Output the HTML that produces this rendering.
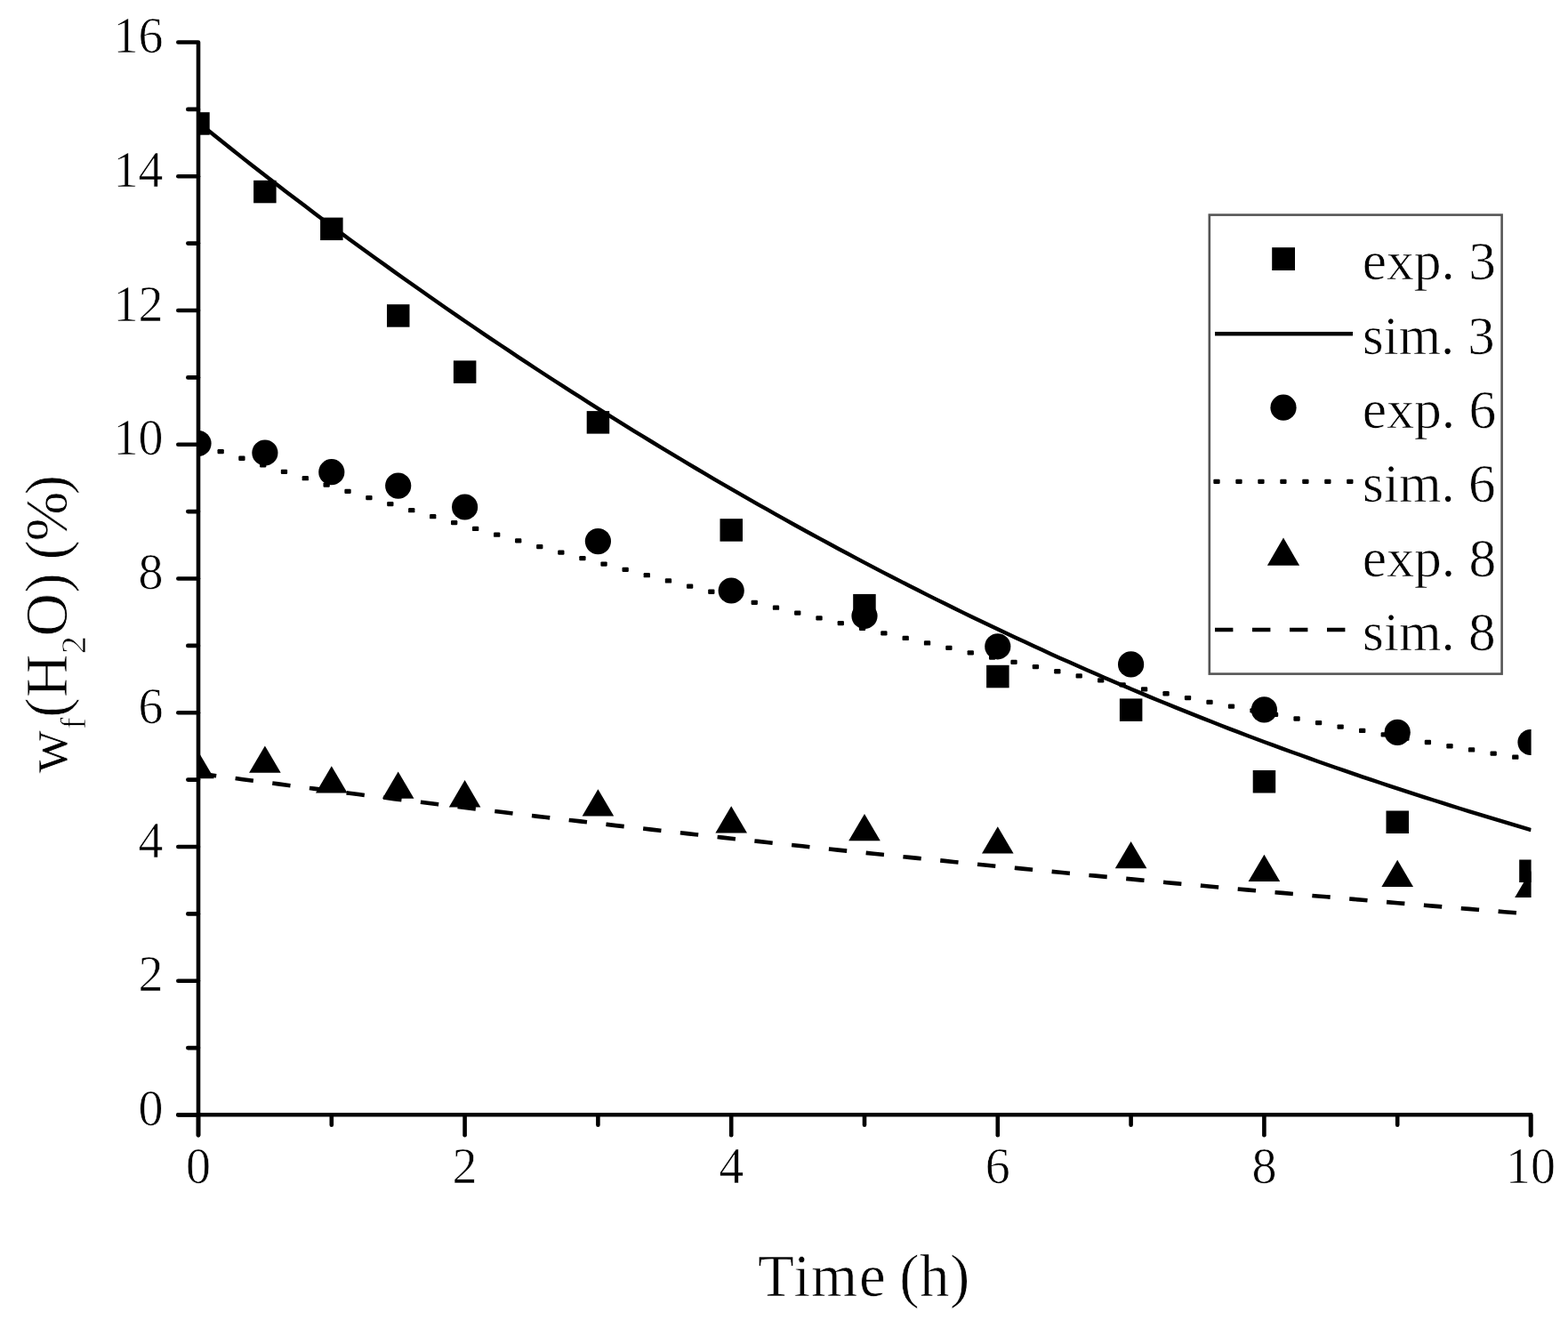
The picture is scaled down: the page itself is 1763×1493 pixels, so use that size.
<!DOCTYPE html><html><head><meta charset="utf-8"><style>html,body{margin:0;padding:0;background:#fff}body{width:1763px;height:1493px;overflow:hidden}svg{display:block}text{font-family:"Liberation Serif","DejaVu Serif",serif;fill:#000;stroke:#fff;stroke-width:0.7px}</style></head><body>
<svg width="1763" height="1493" viewBox="0 0 1763 1493">
<rect width="1763" height="1493" fill="#fff"/>
<defs><clipPath id="pc"><rect x="223" y="0" width="1498.6" height="1253.5"/></clipPath></defs>
<g clip-path="url(#pc)" fill="#000" stroke="none">
<rect x="210.2" y="126.2" width="25.5" height="25.5"/>
<rect x="285.1" y="202.8" width="25.5" height="25.5"/>
<rect x="360.1" y="244.6" width="25.5" height="25.5"/>
<rect x="435.0" y="342.2" width="25.5" height="25.5"/>
<rect x="509.9" y="405.4" width="25.5" height="25.5"/>
<rect x="659.7" y="462.1" width="25.5" height="25.5"/>
<rect x="809.5" y="583.2" width="25.5" height="25.5"/>
<rect x="959.2" y="667.9" width="25.5" height="25.5"/>
<rect x="1109.1" y="747.8" width="25.5" height="25.5"/>
<rect x="1258.9" y="785.4" width="25.5" height="25.5"/>
<rect x="1408.7" y="866.0" width="25.5" height="25.5"/>
<rect x="1558.5" y="911.5" width="25.5" height="25.5"/>
<rect x="1708.2" y="966.5" width="25.5" height="25.5"/>
<circle cx="223.0" cy="498.5" r="14.6"/>
<circle cx="297.9" cy="509.0" r="14.6"/>
<circle cx="372.8" cy="530.7" r="14.6"/>
<circle cx="447.7" cy="546.1" r="14.6"/>
<circle cx="522.6" cy="570.0" r="14.6"/>
<circle cx="672.4" cy="608.6" r="14.6"/>
<circle cx="822.2" cy="664.0" r="14.6"/>
<circle cx="972.0" cy="692.5" r="14.6"/>
<circle cx="1121.8" cy="726.8" r="14.6"/>
<circle cx="1271.6" cy="746.9" r="14.6"/>
<circle cx="1421.4" cy="797.9" r="14.6"/>
<circle cx="1571.2" cy="823.4" r="14.6"/>
<circle cx="1721.0" cy="834.5" r="14.6"/>
<path d="M223.0 845.0L240.8 875.3L205.2 875.3Z"/>
<path d="M297.9 838.4L315.7 868.7L280.1 868.7Z"/>
<path d="M372.8 861.2L390.6 891.5L355.0 891.5Z"/>
<path d="M447.7 867.4L465.5 897.7L429.9 897.7Z"/>
<path d="M522.6 877.1L540.4 907.4L504.8 907.4Z"/>
<path d="M672.4 887.2L690.2 917.5L654.6 917.5Z"/>
<path d="M822.2 906.3L840.0 936.6L804.4 936.6Z"/>
<path d="M972.0 914.9L989.8 945.2L954.2 945.2Z"/>
<path d="M1121.8 929.3L1139.6 959.6L1104.0 959.6Z"/>
<path d="M1271.6 946.0L1289.4 976.3L1253.8 976.3Z"/>
<path d="M1421.4 960.8L1439.2 991.1L1403.6 991.1Z"/>
<path d="M1571.2 966.8L1589.0 997.1L1553.4 997.1Z"/>
<path d="M1721.0 978.7L1738.8 1009.0L1703.2 1009.0Z"/>
<path d="M223.0 137.7 L233.0 145.7 L243.0 153.8 L253.0 161.8 L263.0 169.7 L272.9 177.6 L282.9 185.5 L292.9 193.3 L302.9 201.0 L312.9 208.8 L322.9 216.4 L332.9 224.0 L342.9 231.6 L352.9 239.2 L362.9 246.7 L372.9 254.1 L382.8 261.5 L392.8 268.9 L402.8 276.2 L412.8 283.5 L422.8 290.7 L432.8 297.9 L442.8 305.1 L452.8 312.2 L462.8 319.3 L472.8 326.3 L482.7 333.3 L492.7 340.3 L502.7 347.2 L512.7 354.1 L522.7 361.0 L532.7 367.8 L542.7 374.6 L552.7 381.3 L562.7 388.0 L572.7 394.7 L582.6 401.3 L592.6 407.9 L602.6 414.5 L612.6 421.0 L622.6 427.5 L632.6 433.9 L642.6 440.4 L652.6 446.7 L662.6 453.1 L672.5 459.4 L682.5 465.7 L692.5 471.9 L702.5 478.1 L712.5 484.3 L722.5 490.4 L732.5 496.5 L742.5 502.6 L752.5 508.6 L762.5 514.6 L772.5 520.6 L782.4 526.5 L792.4 532.4 L802.4 538.3 L812.4 544.1 L822.4 549.9 L832.4 555.7 L842.4 561.4 L852.4 567.1 L862.4 572.7 L872.4 578.3 L882.3 583.9 L892.3 589.5 L902.3 595.0 L912.3 600.5 L922.3 605.9 L932.3 611.3 L942.3 616.7 L952.3 622.0 L962.3 627.4 L972.2 632.6 L982.2 637.9 L992.2 643.1 L1002.2 648.2 L1012.2 653.4 L1022.2 658.5 L1032.2 663.5 L1042.2 668.6 L1052.2 673.6 L1062.2 678.5 L1072.2 683.5 L1082.1 688.4 L1092.1 693.2 L1102.1 698.0 L1112.1 702.8 L1122.1 707.6 L1132.1 712.3 L1142.1 717.0 L1152.1 721.6 L1162.1 726.2 L1172.1 730.8 L1182.0 735.4 L1192.0 739.9 L1202.0 744.3 L1212.0 748.8 L1222.0 753.2 L1232.0 757.6 L1242.0 761.9 L1252.0 766.2 L1262.0 770.5 L1272.0 774.7 L1281.9 778.9 L1291.9 783.1 L1301.9 787.2 L1311.9 791.3 L1321.9 795.4 L1331.9 799.4 L1341.9 803.4 L1351.9 807.4 L1361.9 811.3 L1371.9 815.2 L1381.8 819.1 L1391.8 822.9 L1401.8 826.7 L1411.8 830.5 L1421.8 834.2 L1431.8 837.9 L1441.8 841.6 L1451.8 845.2 L1461.8 848.8 L1471.8 852.4 L1481.7 856.0 L1491.7 859.5 L1501.7 863.0 L1511.7 866.4 L1521.7 869.9 L1531.7 873.3 L1541.7 876.7 L1551.7 880.0 L1561.7 883.3 L1571.7 886.6 L1581.6 889.9 L1591.6 893.1 L1601.6 896.4 L1611.6 899.5 L1621.6 902.7 L1631.6 905.9 L1641.6 909.0 L1651.6 912.1 L1661.6 915.1 L1671.5 918.2 L1681.5 921.2 L1691.5 924.2 L1701.5 927.2 L1711.5 930.2 L1721.5 933.2" fill="none" stroke="#000" stroke-width="4.4" stroke-linejoin="round"/>
<rect x="220.78" y="497.26" width="7.3" height="5.3" rx="1.2"/>
<rect x="244.50" y="504.97" width="7.3" height="5.3" rx="1.2"/>
<rect x="268.26" y="512.61" width="7.3" height="5.3" rx="1.2"/>
<rect x="292.03" y="520.17" width="7.3" height="5.3" rx="1.2"/>
<rect x="315.83" y="527.66" width="7.3" height="5.3" rx="1.2"/>
<rect x="339.66" y="535.07" width="7.3" height="5.3" rx="1.2"/>
<rect x="363.50" y="542.41" width="7.3" height="5.3" rx="1.2"/>
<rect x="387.37" y="549.68" width="7.3" height="5.3" rx="1.2"/>
<rect x="411.26" y="556.88" width="7.3" height="5.3" rx="1.2"/>
<rect x="435.17" y="564.00" width="7.3" height="5.3" rx="1.2"/>
<rect x="459.10" y="571.05" width="7.3" height="5.3" rx="1.2"/>
<rect x="483.06" y="578.03" width="7.3" height="5.3" rx="1.2"/>
<rect x="507.03" y="584.95" width="7.3" height="5.3" rx="1.2"/>
<rect x="531.02" y="591.79" width="7.3" height="5.3" rx="1.2"/>
<rect x="555.04" y="598.56" width="7.3" height="5.3" rx="1.2"/>
<rect x="579.07" y="605.26" width="7.3" height="5.3" rx="1.2"/>
<rect x="603.12" y="611.90" width="7.3" height="5.3" rx="1.2"/>
<rect x="627.19" y="618.47" width="7.3" height="5.3" rx="1.2"/>
<rect x="651.28" y="624.97" width="7.3" height="5.3" rx="1.2"/>
<rect x="675.38" y="631.40" width="7.3" height="5.3" rx="1.2"/>
<rect x="699.51" y="637.77" width="7.3" height="5.3" rx="1.2"/>
<rect x="723.65" y="644.07" width="7.3" height="5.3" rx="1.2"/>
<rect x="747.81" y="650.31" width="7.3" height="5.3" rx="1.2"/>
<rect x="771.98" y="656.49" width="7.3" height="5.3" rx="1.2"/>
<rect x="796.17" y="662.60" width="7.3" height="5.3" rx="1.2"/>
<rect x="820.38" y="668.64" width="7.3" height="5.3" rx="1.2"/>
<rect x="844.60" y="674.63" width="7.3" height="5.3" rx="1.2"/>
<rect x="868.84" y="680.55" width="7.3" height="5.3" rx="1.2"/>
<rect x="893.09" y="686.41" width="7.3" height="5.3" rx="1.2"/>
<rect x="917.36" y="692.21" width="7.3" height="5.3" rx="1.2"/>
<rect x="941.64" y="697.94" width="7.3" height="5.3" rx="1.2"/>
<rect x="965.93" y="703.62" width="7.3" height="5.3" rx="1.2"/>
<rect x="990.24" y="709.24" width="7.3" height="5.3" rx="1.2"/>
<rect x="1014.56" y="714.80" width="7.3" height="5.3" rx="1.2"/>
<rect x="1038.90" y="720.30" width="7.3" height="5.3" rx="1.2"/>
<rect x="1063.25" y="725.74" width="7.3" height="5.3" rx="1.2"/>
<rect x="1087.61" y="731.13" width="7.3" height="5.3" rx="1.2"/>
<rect x="1111.98" y="736.46" width="7.3" height="5.3" rx="1.2"/>
<rect x="1136.37" y="741.73" width="7.3" height="5.3" rx="1.2"/>
<rect x="1160.77" y="746.94" width="7.3" height="5.3" rx="1.2"/>
<rect x="1185.18" y="752.11" width="7.3" height="5.3" rx="1.2"/>
<rect x="1209.60" y="757.21" width="7.3" height="5.3" rx="1.2"/>
<rect x="1234.04" y="762.26" width="7.3" height="5.3" rx="1.2"/>
<rect x="1258.48" y="767.26" width="7.3" height="5.3" rx="1.2"/>
<rect x="1282.94" y="772.20" width="7.3" height="5.3" rx="1.2"/>
<rect x="1307.40" y="777.09" width="7.3" height="5.3" rx="1.2"/>
<rect x="1331.88" y="781.93" width="7.3" height="5.3" rx="1.2"/>
<rect x="1356.36" y="786.72" width="7.3" height="5.3" rx="1.2"/>
<rect x="1380.86" y="791.46" width="7.3" height="5.3" rx="1.2"/>
<rect x="1405.37" y="796.14" width="7.3" height="5.3" rx="1.2"/>
<rect x="1429.88" y="800.77" width="7.3" height="5.3" rx="1.2"/>
<rect x="1454.41" y="805.36" width="7.3" height="5.3" rx="1.2"/>
<rect x="1478.94" y="809.89" width="7.3" height="5.3" rx="1.2"/>
<rect x="1503.49" y="814.38" width="7.3" height="5.3" rx="1.2"/>
<rect x="1528.04" y="818.82" width="7.3" height="5.3" rx="1.2"/>
<rect x="1552.60" y="823.20" width="7.3" height="5.3" rx="1.2"/>
<rect x="1577.17" y="827.55" width="7.3" height="5.3" rx="1.2"/>
<rect x="1601.75" y="831.84" width="7.3" height="5.3" rx="1.2"/>
<rect x="1626.33" y="836.09" width="7.3" height="5.3" rx="1.2"/>
<rect x="1650.93" y="840.29" width="7.3" height="5.3" rx="1.2"/>
<rect x="1675.53" y="844.45" width="7.3" height="5.3" rx="1.2"/>
<rect x="1700.14" y="848.56" width="7.3" height="5.3" rx="1.2"/>
<path d="M223.0 869.5 L233.0 870.8 L243.0 872.2 L253.0 873.5 L263.0 874.8 L272.9 876.2 L282.9 877.5 L292.9 878.8 L302.9 880.1 L312.9 881.4 L322.9 882.7 L332.9 884.0 L342.9 885.3 L352.9 886.6 L362.9 887.9 L372.9 889.2 L382.8 890.5 L392.8 891.8 L402.8 893.0 L412.8 894.3 L422.8 895.6 L432.8 896.8 L442.8 898.1 L452.8 899.3 L462.8 900.6 L472.8 901.8 L482.7 903.0 L492.7 904.3 L502.7 905.5 L512.7 906.7 L522.7 908.0 L532.7 909.2 L542.7 910.4 L552.7 911.6 L562.7 912.8 L572.7 914.0 L582.6 915.2 L592.6 916.4 L602.6 917.6 L612.6 918.7 L622.6 919.9 L632.6 921.1 L642.6 922.3 L652.6 923.4 L662.6 924.6 L672.5 925.8 L682.5 926.9 L692.5 928.1 L702.5 929.2 L712.5 930.3 L722.5 931.5 L732.5 932.6 L742.5 933.8 L752.5 934.9 L762.5 936.0 L772.5 937.1 L782.4 938.2 L792.4 939.3 L802.4 940.5 L812.4 941.6 L822.4 942.7 L832.4 943.8 L842.4 944.8 L852.4 945.9 L862.4 947.0 L872.4 948.1 L882.3 949.2 L892.3 950.3 L902.3 951.3 L912.3 952.4 L922.3 953.5 L932.3 954.5 L942.3 955.6 L952.3 956.6 L962.3 957.7 L972.2 958.7 L982.2 959.8 L992.2 960.8 L1002.2 961.8 L1012.2 962.9 L1022.2 963.9 L1032.2 964.9 L1042.2 965.9 L1052.2 966.9 L1062.2 967.9 L1072.2 969.0 L1082.1 970.0 L1092.1 971.0 L1102.1 972.0 L1112.1 973.0 L1122.1 974.0 L1132.1 974.9 L1142.1 975.9 L1152.1 976.9 L1162.1 977.9 L1172.1 978.9 L1182.0 979.8 L1192.0 980.8 L1202.0 981.8 L1212.0 982.7 L1222.0 983.7 L1232.0 984.6 L1242.0 985.6 L1252.0 986.5 L1262.0 987.5 L1272.0 988.4 L1281.9 989.4 L1291.9 990.3 L1301.9 991.2 L1311.9 992.2 L1321.9 993.1 L1331.9 994.0 L1341.9 994.9 L1351.9 995.8 L1361.9 996.8 L1371.9 997.7 L1381.8 998.6 L1391.8 999.5 L1401.8 1000.4 L1411.8 1001.3 L1421.8 1002.2 L1431.8 1003.1 L1441.8 1003.9 L1451.8 1004.8 L1461.8 1005.7 L1471.8 1006.6 L1481.7 1007.5 L1491.7 1008.3 L1501.7 1009.2 L1511.7 1010.1 L1521.7 1010.9 L1531.7 1011.8 L1541.7 1012.7 L1551.7 1013.5 L1561.7 1014.4 L1571.7 1015.2 L1581.6 1016.1 L1591.6 1016.9 L1601.6 1017.7 L1611.6 1018.6 L1621.6 1019.4 L1631.6 1020.2 L1641.6 1021.1 L1651.6 1021.9 L1661.6 1022.7 L1671.5 1023.5 L1681.5 1024.4 L1691.5 1025.2 L1701.5 1026.0 L1711.5 1026.8 L1721.5 1027.6" fill="none" stroke="#000" stroke-width="4.6" stroke-dasharray="20.4 21.6"/>
</g>
<g stroke="#000" fill="none" stroke-width="4.6" stroke-linecap="butt">
<path d="M200.3 47.5 H223 V1276.2 M200.3 1253.3 H1721.3 V1276.2" stroke-linejoin="round" stroke-linecap="round"/>
<path d="M200.3 1253.5 H223" stroke-linecap="round"/>
<path d="M211.3 1178.1 H223" stroke-linecap="round"/>
<path d="M200.3 1102.8 H223" stroke-linecap="round"/>
<path d="M211.3 1027.4 H223" stroke-linecap="round"/>
<path d="M200.3 952.0 H223" stroke-linecap="round"/>
<path d="M211.3 876.6 H223" stroke-linecap="round"/>
<path d="M200.3 801.2 H223" stroke-linecap="round"/>
<path d="M211.3 725.9 H223" stroke-linecap="round"/>
<path d="M200.3 650.5 H223" stroke-linecap="round"/>
<path d="M211.3 575.1 H223" stroke-linecap="round"/>
<path d="M200.3 499.8 H223" stroke-linecap="round"/>
<path d="M211.3 424.4 H223" stroke-linecap="round"/>
<path d="M200.3 349.0 H223" stroke-linecap="round"/>
<path d="M211.3 273.6 H223" stroke-linecap="round"/>
<path d="M200.3 198.2 H223" stroke-linecap="round"/>
<path d="M211.3 122.9 H223" stroke-linecap="round"/>
<path d="M223.0 1253.3 V1276.2" stroke-linecap="round"/>
<path d="M372.8 1253.3 V1264.7" stroke-linecap="round"/>
<path d="M522.6 1253.3 V1276.2" stroke-linecap="round"/>
<path d="M672.4 1253.3 V1264.7" stroke-linecap="round"/>
<path d="M822.2 1253.3 V1276.2" stroke-linecap="round"/>
<path d="M972.0 1253.3 V1264.7" stroke-linecap="round"/>
<path d="M1121.8 1253.3 V1276.2" stroke-linecap="round"/>
<path d="M1271.6 1253.3 V1264.7" stroke-linecap="round"/>
<path d="M1421.4 1253.3 V1276.2" stroke-linecap="round"/>
<path d="M1571.2 1253.3 V1264.7" stroke-linecap="round"/>
<path d="M1721.0 1253.3 V1276.2" stroke-linecap="round"/>
</g>
<text x="183.5" y="1265.0" font-size="56.0" text-anchor="end">0</text>
<text x="183.5" y="1114.2" font-size="56.0" text-anchor="end">2</text>
<text x="183.5" y="963.5" font-size="56.0" text-anchor="end">4</text>
<text x="183.5" y="812.8" font-size="56.0" text-anchor="end">6</text>
<text x="183.5" y="662.0" font-size="56.0" text-anchor="end">8</text>
<text x="183.5" y="511.2" font-size="56.0" text-anchor="end">10</text>
<text x="183.5" y="360.5" font-size="56.0" text-anchor="end">12</text>
<text x="183.5" y="209.8" font-size="56.0" text-anchor="end">14</text>
<text x="183.5" y="59.0" font-size="56.0" text-anchor="end">16</text>
<text x="223.0" y="1329.6" font-size="56.0" text-anchor="middle">0</text>
<text x="522.6" y="1329.6" font-size="56.0" text-anchor="middle">2</text>
<text x="822.2" y="1329.6" font-size="56.0" text-anchor="middle">4</text>
<text x="1121.8" y="1329.6" font-size="56.0" text-anchor="middle">6</text>
<text x="1421.4" y="1329.6" font-size="56.0" text-anchor="middle">8</text>
<text x="1721.0" y="1329.6" font-size="56.0" text-anchor="middle">10</text>
<text transform="translate(74.7 0) rotate(-90)" font-size="67"><tspan x="-869.3">w</tspan><tspan x="-819.9" dy="21.7" font-size="40">f</tspan><tspan x="-806.8 -784.0" dy="-21.7">(H</tspan><tspan x="-734.9" dy="21.7" font-size="40">2</tspan><tspan x="-715.5 -666.6 -644.0 -629.5 -608.6 -556.3" dy="-21.7">O) (%)</tspan></text>
<text x="852.1 892.5 911.9 965.9 988.5 1011.2 1033.9 1068.0" y="1456.8" font-size="67">Time (h)</text>
<rect x="1359.8" y="241.6" width="328.8" height="516" fill="none" stroke="#555" stroke-width="2.6"/>
<rect x="1430.2" y="278.2" width="25.8" height="25.8" fill="#000"/>
<path d="M1366 375.2 H1521" stroke="#000" stroke-width="4.4"/>
<circle cx="1443" cy="458.2" r="14.6" fill="#000"/>
<rect x="1364.35" y="538.75" width="7.3" height="5.3" rx="1.2" fill="#000"/>
<rect x="1389.32" y="538.75" width="7.3" height="5.3" rx="1.2" fill="#000"/>
<rect x="1414.29" y="538.75" width="7.3" height="5.3" rx="1.2" fill="#000"/>
<rect x="1439.26" y="538.75" width="7.3" height="5.3" rx="1.2" fill="#000"/>
<rect x="1464.23" y="538.75" width="7.3" height="5.3" rx="1.2" fill="#000"/>
<rect x="1489.20" y="538.75" width="7.3" height="5.3" rx="1.2" fill="#000"/>
<rect x="1514.17" y="538.75" width="7.3" height="5.3" rx="1.2" fill="#000"/>
<path d="M1443 604.5 L1461.1 635.8 L1424.9 635.8 Z" fill="#000"/>
<path d="M1366 708 H1521" stroke="#000" stroke-width="4.6" stroke-dasharray="20.4 21.6"/>
<text transform="translate(1531.8 313.6) scale(1.007 1)" font-size="61">exp. 3</text>
<text transform="translate(1532.1 397.8) scale(0.997 1)" font-size="61">sim. 3</text>
<text transform="translate(1531.8 480.8) scale(1.010 1)" font-size="61">exp. 6</text>
<text transform="translate(1532.1 563.6) scale(1.003 1)" font-size="61">sim. 6</text>
<text transform="translate(1531.8 647.7) scale(1.010 1)" font-size="61">exp. 8</text>
<text transform="translate(1532.1 730.7) scale(1.003 1)" font-size="61">sim. 8</text>
</svg></body></html>
